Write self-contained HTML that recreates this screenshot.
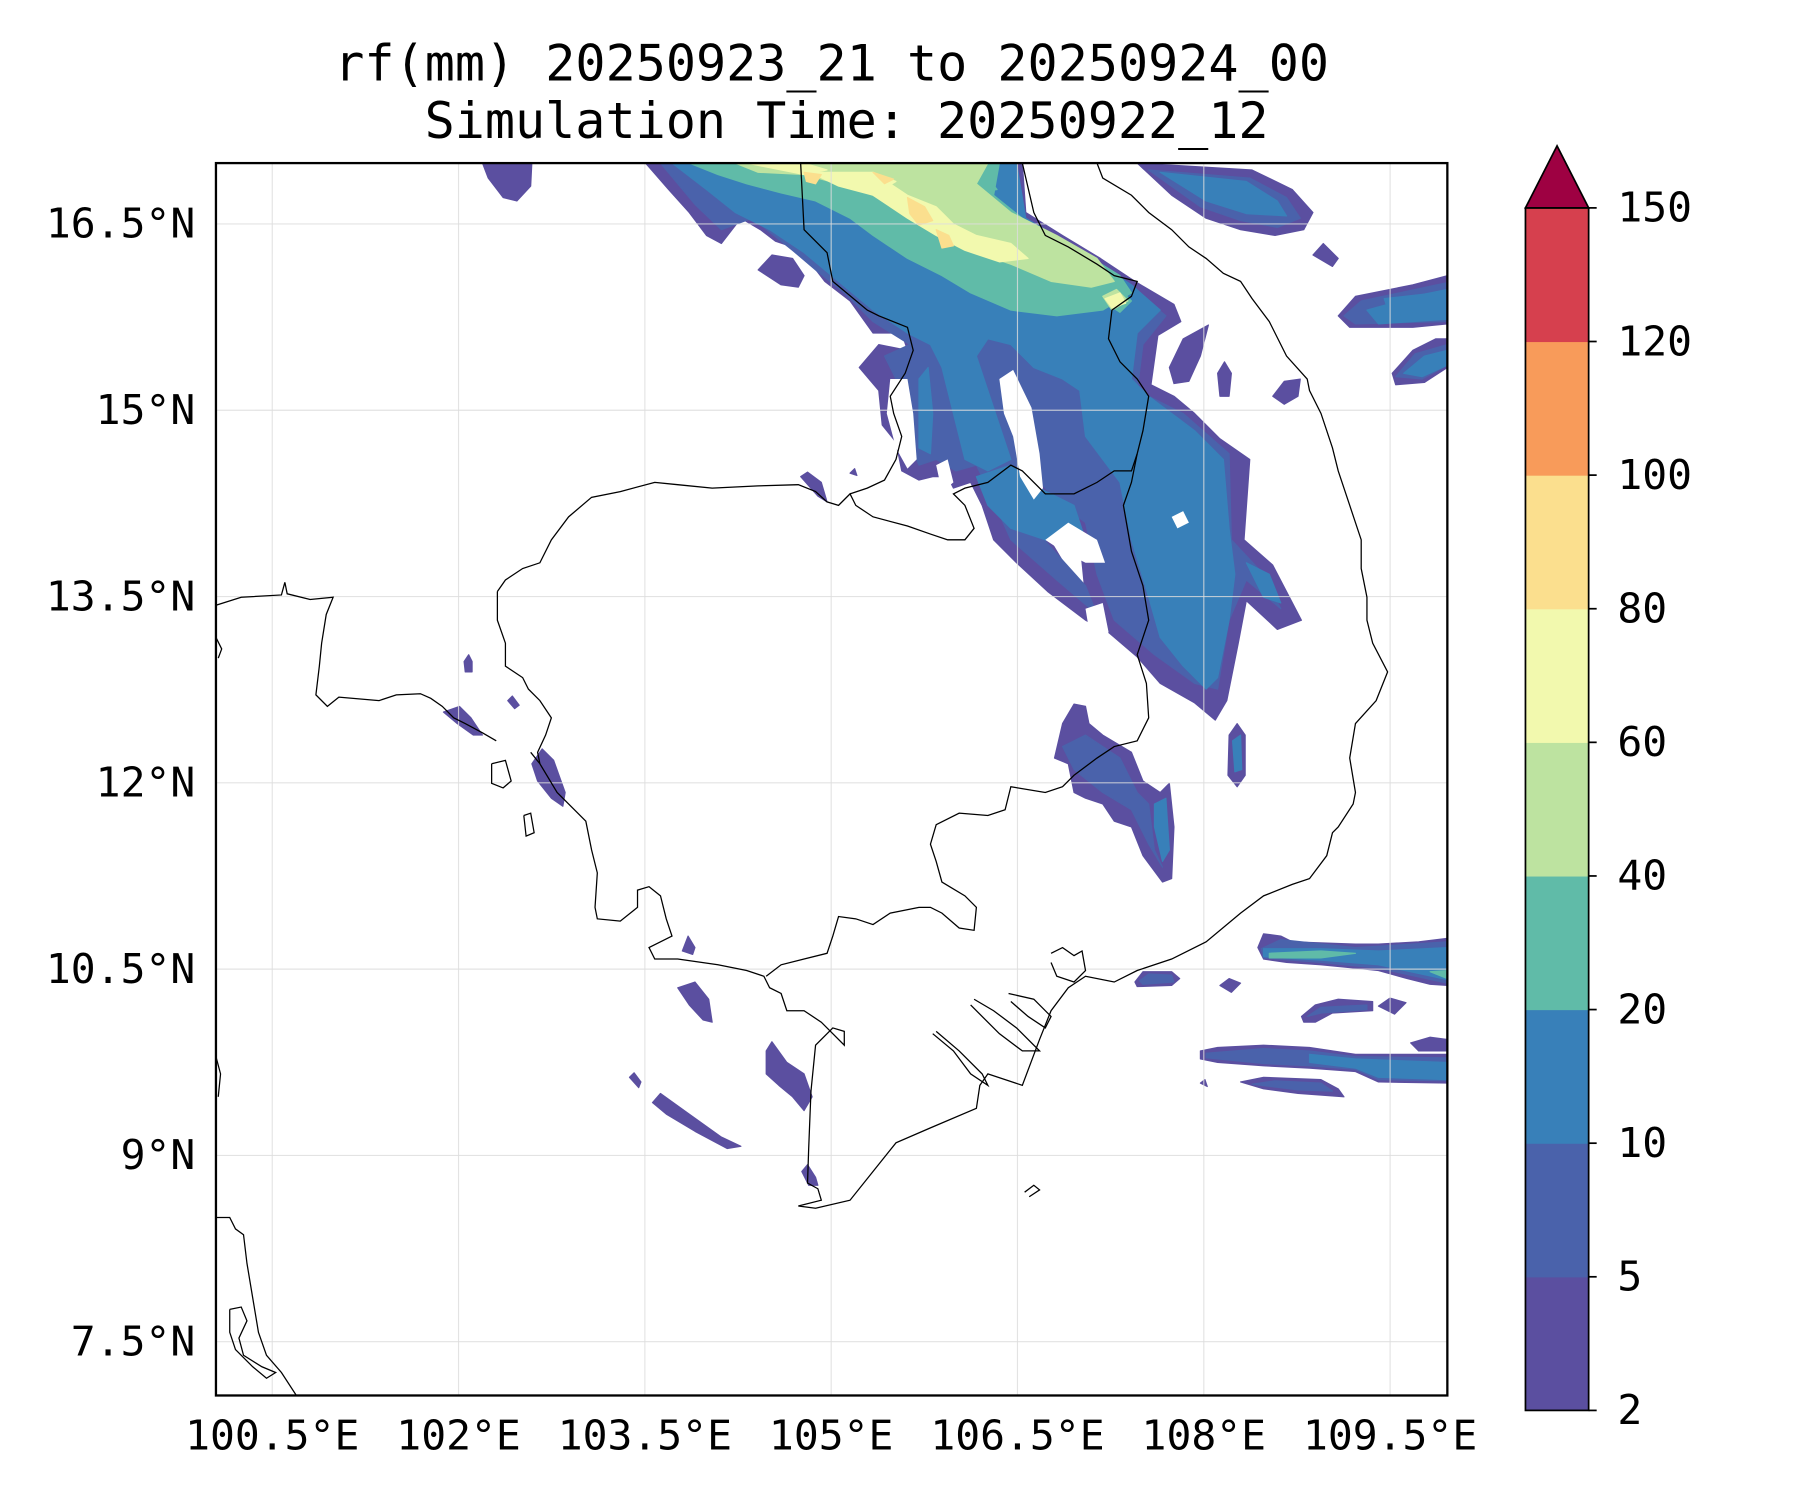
<!DOCTYPE html>
<html><head><meta charset="utf-8">
<style>
html,body{margin:0;padding:0;background:#fff;}
svg{display:block;}
text{font-family:"DejaVu Sans Mono","Liberation Mono",monospace;fill:#000;}
</style></head>
<body>
<svg id="fig" width="1800" height="1500" viewBox="0 0 1567 1306" preserveAspectRatio="none" xmlns="http://www.w3.org/2000/svg">
<rect x="0" y="0" width="1567" height="1306" fill="#fff"/>
<text x="724" y="70" font-size="43.6" text-anchor="middle">rf(mm) 20250923_21 to 20250924_00</text>
<text x="737" y="120" font-size="43.6" text-anchor="middle">Simulation Time: 20250922_12</text>
<defs><clipPath id="axclip"><rect x="188" y="142" width="1072" height="1073"/></clipPath></defs>
<g id="plot" clip-path="url(#axclip)">
<g id="fills"></g>
<g id="holes"></g>
<g id="grid"></g>
<g id="coast" fill="none" stroke="#000" stroke-width="1.1"></g>
</g>
<rect x="188" y="142" width="1072" height="1073" fill="none" stroke="#000" stroke-width="2"/>
<g id="ticks"></g>
<g id="cbar"></g>
</svg>
<script>
const lonTicks=[100.5,102,103.5,105,106.5,108,109.5];
const lonLabels=["100.5°E","102°E","103.5°E","105°E","106.5°E","108°E","109.5°E"];
const latTicks=[16.5,15,13.5,12,10.5,9,7.5];
const latLabels=["16.5°N","15°N","13.5°N","12°N","10.5°N","9°N","7.5°N"];
const cbLevels=[2,5,10,20,40,60,80,100,120,150];
const cbColors=["#5b4fa0","#4a62ab","#3880b9","#60bba8","#bde3a0","#f2f9ae","#fbdf8e","#f89b5a","#d6404e"];
const extendColor="#9e0142";
const lvl0=[
[562,142,890,142,893,185,925,205,958,225,988,245,1022,265,1028,280,1008,292,1002,335,1022,345,1040,360,1062,382,1088,400,1083,470,1108,492,1133,540,1112,548,1085,523,1078,560,1068,610,1058,627,1040,612,1010,595,990,572,962,548,945,520,940,470,910,470,905,455,935,505,960,540,965,550,945,540,912,515,885,490,865,470,855,440,845,420,830,425,825,415,812,415,800,418,785,410,780,385,768,370,765,340,748,320,765,300,790,305,785,290,760,290,740,262,718,245,705,228,690,215,675,210,662,200,645,190,628,212,615,205,600,185,582,165],
[660,235,672,222,690,225,700,240,695,250,680,248],
[420,142,463,142,462,162,450,175,438,172,425,155],
[990,142,1090,148,1125,165,1143,185,1135,200,1110,205,1080,200,1050,190,1020,170],
[1165,275,1180,258,1230,248,1260,240,1260,282,1230,285,1175,285],
[1212,325,1230,305,1250,295,1260,295,1260,320,1240,333,1215,335],
[1108,345,1118,332,1132,330,1130,345,1118,352],
[1060,325,1066,315,1072,325,1070,345,1062,345],
[1018,320,1030,295,1052,283,1045,310,1035,332,1022,334],
[1143,222,1152,212,1165,225,1160,232],
[918,660,925,630,935,613,945,615,948,630,960,640,985,655,995,680,1010,690,1018,682,1022,720,1020,765,1012,768,995,745,985,720,970,715,960,700,945,695,935,690,930,665],
[1070,640,1077,630,1084,640,1084,675,1077,685,1069,675],
[386,620,400,615,410,625,420,640,412,640,398,630],
[463,665,472,652,482,662,492,690,490,702,480,695,468,680],
[404,576,408,570,411,576,411,585,405,585],
[442,610,446,606,452,614,448,617],
[594,828,599,815,605,825,603,831],
[590,860,605,855,617,870,620,890,612,888,600,875],
[667,915,672,907,685,925,700,935,707,955,700,967,690,955,678,945,667,935],
[568,960,575,952,600,970,628,990,645,998,633,1000,605,985,580,970],
[548,938,552,934,558,942,556,947],
[698,1020,703,1014,710,1025,712,1032,704,1032],
[697,415,703,411,715,420,720,437,712,432],
[740,412,744,408,746,414],
[1095,825,1100,813,1115,815,1125,820,1180,822,1200,822,1235,820,1260,817,1260,858,1245,857,1225,852,1200,845,1180,843,1150,840,1120,838,1100,835],
[988,855,995,846,1020,846,1027,852,1020,858,990,859],
[1062,858,1070,852,1080,856,1072,864],
[1133,885,1145,875,1165,870,1195,872,1195,880,1160,882,1145,890,1135,890],
[1200,876,1210,869,1224,873,1214,883],
[1045,915,1060,912,1100,910,1140,912,1180,918,1260,918,1260,943,1200,942,1180,933,1140,930,1100,928,1060,925,1045,922],
[1228,908,1245,903,1260,905,1260,915,1235,915],
[1080,942,1100,938,1150,940,1165,948,1170,955,1130,952,1100,948],
[1045,943,1049,940,1051,946]
];
const lvl1=[
[575,142,885,142,890,190,925,215,985,250,1015,275,995,300,990,340,1030,360,1070,395,1072,470,1100,500,1115,530,1085,505,1070,540,1060,600,1040,595,1005,570,970,540,955,500,945,455,925,440,905,420,890,400,880,430,900,460,945,510,955,535,920,505,880,470,862,430,850,405,832,410,815,400,800,405,790,380,785,340,770,310,792,300,760,280,735,255,710,235,690,218,655,190,628,200,605,178],
[1000,148,1088,155,1120,172,1132,190,1112,198,1080,192,1045,180],
[1170,275,1185,262,1232,252,1260,246,1260,280,1180,282],
[1215,328,1232,308,1260,300,1260,318,1238,330],
[925,650,945,640,975,660,990,690,1000,700,1005,740,1012,755,1000,735,985,705,960,690,935,670],
[1098,826,1115,818,1180,825,1260,820,1260,856,1200,843,1150,838,1100,834],
[992,854,1000,848,1020,849,1022,855,995,857],
[1138,885,1150,877,1190,875,1190,879,1150,882],
[1050,917,1100,913,1140,915,1180,920,1260,921,1260,941,1200,940,1180,931,1140,928,1100,926,1050,921],
[1090,944,1110,941,1150,943,1160,950,1130,949]
];
const lvl2=[
[585,142,885,142,893,190,930,212,985,248,1010,270,990,290,985,330,1000,345,1040,375,1065,400,1070,460,1075,500,1070,540,1060,590,1050,600,1030,580,1010,555,1000,520,985,470,975,420,960,400,945,380,940,340,925,330,900,320,880,300,860,295,850,310,860,340,870,370,880,400,860,410,840,400,830,360,820,320,810,300,790,290,760,270,730,245,700,220,670,200,640,185,615,165],
[850,415,880,405,905,425,935,440,945,470,935,480,910,470,880,460,860,440],
[1010,150,1085,158,1112,175,1120,188,1085,186,1050,175],
[1190,270,1240,256,1260,252,1260,278,1200,282],
[1222,325,1240,310,1260,305,1260,318,1238,328],
[800,330,808,320,812,360,810,395,800,390],
[1085,490,1105,500,1115,525,1100,520],
[1005,700,1015,695,1018,740,1012,750,1005,720],
[1073,645,1080,640,1081,670,1075,672],
[1100,826,1150,826,1200,828,1260,825,1260,853,1200,840,1150,836,1100,833],
[1140,918,1180,922,1260,925,1260,940,1200,938,1180,930,1140,925],
[1205,260,1250,255,1255,270,1210,275]
];
const lvl3=[
[600,142,870,142,865,170,890,190,930,212,975,240,985,255,960,270,920,275,880,270,845,255,820,240,790,225,760,205,740,190,710,175,680,168,650,160,625,152],
[835,150,855,148,868,165,850,168],
[960,262,975,252,985,262,975,272],
[1105,830,1150,828,1180,830,1150,834,1105,834],
[1245,846,1260,845,1260,852]
];
const lvl4=[
[640,142,860,142,850,160,880,185,920,205,955,225,970,245,950,250,915,245,880,230,850,220,820,200,790,185,760,170,730,160,700,152,660,150],
[960,258,972,252,982,262,968,270]
];
const lvl5=[
[650,142,700,142,720,148,700,152],
[705,150,760,150,790,170,815,180,830,195,850,205,880,212,895,225,870,228,840,218,815,205,790,190,760,170,730,162],
[760,150,780,158,770,164],
[962,260,975,255,980,264,968,268]
];
const lvl6=[
[790,172,805,180,812,192,800,196,792,186],
[815,200,826,205,830,214,820,216],
[700,150,715,152,710,160,702,158],
[760,150,778,156,770,160]
];
const contourLevels=[lvl0,lvl1,lvl2,lvl3,lvl4,lvl5,lvl6];
const gapPolys=[
[870,330,882,322,898,355,905,395,908,425,900,435,888,415,882,380,874,360],
[775,330,790,330,795,360,798,400,790,408,780,390,772,360],
[910,470,930,455,955,470,962,490,945,490,925,480],
[945,530,960,525,965,550,960,575,950,560],
[815,405,825,400,830,420,820,428],
[1020,450,1030,445,1035,455,1025,460]
];
const coastLines=[
[188,527,210,520,245,518,248,507,250,517,270,522,290,520,284,535,280,560,278,580,275,605,285,615,295,607,330,610,345,605,366,604,375,608,385,615,395,625,405,630,420,638,432,645],
[188,555,193,565,190,573],
[462,655,470,665,485,690,500,705,510,715,515,740,520,760,518,790,520,800,540,802,555,790,555,775,565,772,575,780,580,800,585,815,575,820,565,825,570,835,590,835,625,840,650,845,665,850,670,860,680,865,685,880,700,880,715,890,725,900,735,910,735,898,725,895,710,910,706,950,704,1000,703,1030,712,1035,715,1045,695,1050,710,1052,740,1045,760,1020,780,995,810,982,850,965,853,945,860,935,890,945,905,905,915,880,930,860,945,850,970,855,990,845,1020,835,1050,820,1080,795,1100,780,1125,770,1140,765,1155,745,1160,725,1165,720,1178,700,1180,690,1175,660,1180,630,1198,610,1208,585,1195,560,1190,540,1190,520,1185,495,1185,470,1175,440,1165,410,1160,390,1150,360,1140,340,1138,330,1120,310,1105,280,1090,260,1080,245,1065,238,1050,225,1035,215,1020,200,1000,185,985,170,960,155,955,142],
[433,515,440,505,455,495,470,490,480,470,495,450,515,433,540,428,570,420,590,422,620,425,660,423,695,422,710,428,720,437,730,440,740,430,745,440,760,450,790,458,810,465,825,470,840,470,848,460,840,440,830,430,840,425,860,420,880,405,890,410,910,430,935,430,955,420,970,410,985,410,990,395],
[697,142,700,200,720,220,725,245,755,270,765,275,790,285,795,305,788,325,775,345,778,360,785,380,780,400,770,418,755,425,740,430],
[990,395,995,375,1000,345,990,330,975,315,965,295,968,270,985,258,990,245,970,240,955,230,930,215,910,205,900,185,890,142],
[990,395,985,420,978,440,985,480,995,510,1000,540,990,570,998,595,1000,625,990,645,970,650,955,660,935,675,925,685,910,690,880,685,875,705,860,710,835,708,815,718,810,735,815,750,820,768,840,780,850,790,848,810,835,808,820,795,810,790,800,790,775,795,760,805,745,800,730,798,725,815,720,830,700,835,680,840,667,850],
[433,515,433,540,440,560,440,580,455,590,460,600,470,610,480,625,475,640,468,655,470,665],
[188,1060,200,1060,205,1070,212,1075,215,1100,220,1130,225,1160,232,1180,245,1195,258,1215],
[200,1140,210,1138,215,1150,208,1165,212,1180,228,1190,240,1195,232,1200,220,1190,205,1175,200,1160,200,1140],
[428,665,440,662,445,680,438,686,428,682,428,665],
[456,710,462,708,465,725,458,728,456,710],
[845,875,870,900,890,915,905,915,885,895,865,880,848,870],
[878,865,900,870,915,885,910,895,895,885,880,872],
[812,900,830,915,845,935,860,945,855,935,835,915,815,898],
[915,830,925,825,935,832,942,828,945,845,935,855,920,850,915,838],
[892,1038,900,1032,905,1036,896,1042],
[188,920,192,935,190,955]
];
const svgNS="http://www.w3.org/2000/svg";
function pts(a){let s=[];for(let i=0;i<a.length;i+=2)s.push(a[i]+","+a[i+1]);return s.join(" ");}
function X(lon){return 237+(lon-100.5)*108.13;}
function Y(lat){return 195+(16.5-lat)*108.13;}
const fills=document.getElementById('fills');
contourLevels.forEach((polys,li)=>{
  polys.forEach(p=>{
    const el=document.createElementNS(svgNS,'polygon');
    el.setAttribute('points',pts(p));
    el.setAttribute('fill',cbColors[li]);
    el.setAttribute('stroke',cbColors[li]);
    el.setAttribute('stroke-width','1');
    el.setAttribute('stroke-linejoin','round');
    
    
    fills.appendChild(el);
  });
});
const holes=document.getElementById('holes');
gapPolys.forEach(p=>{
  const el=document.createElementNS(svgNS,'polygon');
  el.setAttribute('points',pts(p));
  el.setAttribute('fill','#fff');
  
  
  holes.appendChild(el);
});
const grid=document.getElementById('grid');
lonTicks.forEach(v=>{
  const l=document.createElementNS(svgNS,'line');
  l.setAttribute('x1',X(v));l.setAttribute('x2',X(v));l.setAttribute('y1',142);l.setAttribute('y2',1215);
  l.setAttribute('stroke','#ddd');l.setAttribute('stroke-width','1');l.setAttribute('opacity','0.8');
  
  
  grid.appendChild(l);
});
latTicks.forEach(v=>{
  const l=document.createElementNS(svgNS,'line');
  l.setAttribute('y1',Y(v));l.setAttribute('y2',Y(v));l.setAttribute('x1',188);l.setAttribute('x2',1260);
  l.setAttribute('stroke','#ddd');l.setAttribute('stroke-width','1');l.setAttribute('opacity','0.8');
  
  
  grid.appendChild(l);
});
const coast=document.getElementById('coast');
coastLines.forEach(p=>{
  const el=document.createElementNS(svgNS,'polyline');
  el.setAttribute('points',pts(p));
  
  
  coast.appendChild(el);
});
const ticks=document.getElementById('ticks');
lonTicks.forEach((v,i)=>{
  const t=document.createElementNS(svgNS,'text');
  t.setAttribute('x',X(v));t.setAttribute('y',1262);t.setAttribute('font-size','36');t.setAttribute('text-anchor','middle');
  t.textContent=lonLabels[i];
  
  
  ticks.appendChild(t);
});
latTicks.forEach((v,i)=>{
  const t=document.createElementNS(svgNS,'text');
  t.setAttribute('x',170);t.setAttribute('y',Y(v)+12);t.setAttribute('font-size','36');t.setAttribute('text-anchor','end');
  t.textContent=latLabels[i];
  
  
  ticks.appendChild(t);
});
const cbar=document.getElementById('cbar');
const cbTop=181,cbBot=1228,cbX=1328,cbW=55;
const bandH=(cbBot-cbTop)/(cbLevels.length-1);
cbColors.forEach((c,i)=>{
  const r=document.createElementNS(svgNS,'rect');
  r.setAttribute('x',cbX);r.setAttribute('y',cbBot-(i+1)*bandH);r.setAttribute('width',cbW);r.setAttribute('height',bandH+0.5);
  r.setAttribute('fill',c);
  
  
  cbar.appendChild(r);
});
const tri=document.createElementNS(svgNS,'polygon');
tri.setAttribute('points',`${cbX},${cbTop} ${cbX+cbW},${cbTop} ${cbX+cbW/2},127`);
tri.setAttribute('fill',extendColor);tri.setAttribute('stroke','#000');tri.setAttribute('stroke-width','1.5');


cbar.appendChild(tri);
const frame=document.createElementNS(svgNS,'rect');
frame.setAttribute('x',cbX);frame.setAttribute('y',cbTop);frame.setAttribute('width',cbW);frame.setAttribute('height',cbBot-cbTop);
frame.setAttribute('fill','none');frame.setAttribute('stroke','#000');frame.setAttribute('stroke-width','1.5');


cbar.appendChild(frame);
cbLevels.forEach((v,i)=>{
  const y=cbBot-i*bandH;
  const l=document.createElementNS(svgNS,'line');
  l.setAttribute('x1',cbX+cbW);l.setAttribute('x2',cbX+cbW+7);l.setAttribute('y1',y);l.setAttribute('y2',y);
  l.setAttribute('stroke','#000');l.setAttribute('stroke-width','1.5');
  
  
  cbar.appendChild(l);
  const t=document.createElementNS(svgNS,'text');
  t.setAttribute('x',1408);t.setAttribute('y',y+12);t.setAttribute('font-size','36');
  t.textContent=String(v);
  
  
  cbar.appendChild(t);
});
</script>
</body></html>
